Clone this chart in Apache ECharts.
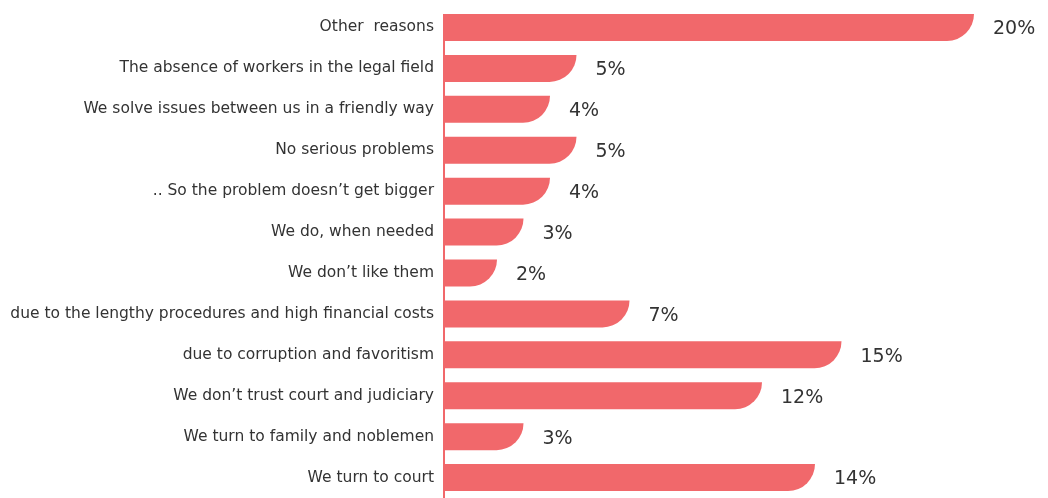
<!DOCTYPE html>
<html>
<head>
<meta charset="utf-8">
<script src="https://cdn.jsdelivr.net/npm/echarts@6/dist/echarts.min.js"></script>
<style>
  html, body { margin: 0; padding: 0; background: #fff; }
  #chart { width: 1048px; height: 498px; }
</style>
</head>
<body>
<div id="chart"></div>
<script>
// Reasons, listed top to bottom
const categories = [
  'Other  reasons',
  'The absence of workers in the legal field',
  'We solve issues between us in a friendly way',
  'No serious problems',
  '.. So the problem doesn\u2019t get bigger',
  'We do, when needed',
  'We don\u2019t like them',
  'due to the lengthy procedures and high financial costs',
  'due to corruption and favoritism',
  'We don\u2019t trust court and judiciary',
  'We turn to family and noblemen',
  'We turn to court'
];
// Share of respondents, percent
const shares = [20, 5, 4, 5, 4, 3, 2, 7, 15, 12, 3, 14];

const barColor = '#F1686B';
const textFont = '"DejaVu Sans", sans-serif';
const barHeight = 27;

const chart = echarts.init(document.getElementById('chart'));
chart.setOption({
  animation: false,
  backgroundColor: '#ffffff',
  grid: { left: 444, right: 21, top: 7, bottom: -3, containLabel: false },
  xAxis: {
    type: 'value',
    min: 0,
    max: 22,
    show: false
  },
  yAxis: {
    type: 'category',
    inverse: true,
    data: categories,
    axisLine: { show: false },
    axisTick: { show: false },
    axisLabel: {
      margin: 10,
      color: '#333333',
      fontSize: 15.5,
      fontFamily: textFont
    }
  },
  series: [{
    type: 'bar',
    data: shares,
    barWidth: barHeight,
    itemStyle: { color: barColor, borderRadius: [0, 0, barHeight, 0] },
    label: {
      show: true,
      position: 'right',
      distance: 19,
      formatter: '{c}%',
      color: '#333333',
      fontSize: 19,
      fontFamily: textFont,
      offset: [0, 2]
    }
  }]
});

// Baseline: runs from the top of the first bar down past the last one
const x0 = chart.convertToPixel({ xAxisIndex: 0 }, 0);
const yTop = chart.convertToPixel({ yAxisIndex: 0 }, categories[0]) - barHeight / 2;
chart.setOption({
  graphic: [{
    type: 'line',
    shape: { x1: x0, y1: yTop, x2: x0, y2: 498 },
    style: { stroke: barColor, lineWidth: 2 },
    z: 10
  }]
});
</script>
</body>
</html>
